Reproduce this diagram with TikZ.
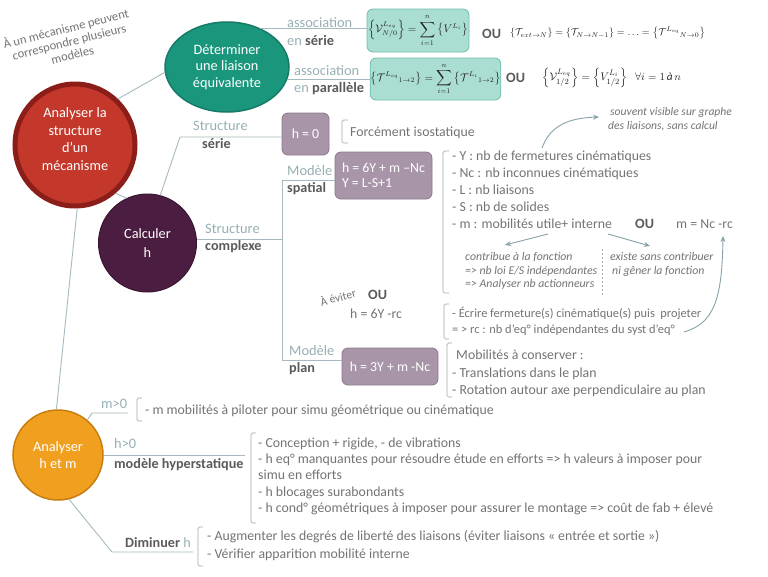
\documentclass[tikz,border=0pt]{standalone}
\usepackage{amsmath}
\usepackage{fontspec}
\setmainfont{Carlito}
\usetikzlibrary{shapes.geometric,arrows.meta}
\definecolor{redf}{HTML}{C4382C}
\definecolor{redb}{HTML}{8C1E19}
\definecolor{tealf}{HTML}{1A967D}
\definecolor{tealb}{HTML}{157A66}
\definecolor{purf}{HTML}{4B1E41}
\definecolor{purb}{HTML}{3A1532}
\definecolor{orf}{HTML}{F0A01E}
\definecolor{orb}{HTML}{C87D0F}
\definecolor{mauf}{HTML}{A896A8}
\definecolor{maub}{HTML}{8C788C}
\definecolor{eqf}{HTML}{AADED2}
\definecolor{eqb}{HTML}{6EBEAA}
\definecolor{linec}{HTML}{A5B9BE}
\definecolor{labc}{HTML}{96AFB4}
\definecolor{txtc}{HTML}{737373}
\definecolor{boldc}{HTML}{5A5A5A}
\definecolor{brkc}{HTML}{A8A8A8}
\definecolor{arrc}{HTML}{86A2A8}
\definecolor{mathc}{HTML}{222222}
\begin{document}
\begin{tikzpicture}[x=1pt,y=-1pt,
  conn/.style={draw=linec,line width=0.9pt},
  brk/.style={draw=brkc,line width=0.7pt,rounded corners=1.5pt},
  arr/.style={draw=arrc,line width=0.9pt,-{Stealth[length=6pt,width=5pt]}},
  bubble/.style={text=white,align=center,font=\fontsize{14.3}{17.5}\selectfont,inner sep=0},
  t/.style={anchor=base west,inner sep=0,text=txtc,font=\fontsize{13.8}{16}\selectfont},
  lab/.style={anchor=base west,inner sep=0,text=labc,font=\fontsize{14.4}{16}\selectfont},
  bl/.style={anchor=base west,inner sep=0,text=boldc,font=\fontsize{14.2}{16}\selectfont\bfseries},
  itx/.style={anchor=base west,inner sep=0,text=txtc,font=\fontsize{11.8}{13}\selectfont\itshape},
  hbox/.style={draw=maub,fill=mauf,rounded corners=6pt,line width=0.8pt,text=white,font=\fontsize{13.8}{15}\selectfont,inner sep=0},
  eqbox/.style={draw=eqb,fill=eqf,rounded corners=6pt,line width=0.8pt,inner sep=0,text=mathc,font=\fontsize{10.5}{12}\selectfont},
  eqtxt/.style={anchor=west,inner sep=0,text=mathc,font=\fontsize{10}{12}\selectfont},
]
\useasboundingbox (0,0) rectangle (768,576);

% ---------- main bubbles ----------
\node[ellipse,fill=redf,draw=redb,line width=5pt,minimum width=120pt,minimum height=122pt] (red) at (75,145) {};
\node[bubble] (redtxt) at (75,139) {Analyser la\\structure\\d’un\\mécanisme};
\node[bubble,ellipse,fill=tealf,draw=tealb,line width=1.5pt,minimum width=124pt,minimum height=90pt,font=\fontsize{14.3}{16.7}\selectfont] (teal) at (227,67) {Déterminer\\une liaison\\équivalente};
\node[bubble,circle,fill=purf,draw=purb,line width=1pt,minimum size=98pt,font=\fontsize{14.3}{19}\selectfont] (purple) at (147.5,243) {Calculer\\h};
\node[bubble,circle,fill=orf,draw=orb,line width=1.5pt,minimum size=90pt] (orange) at (58,455) {Analyser\\h et m};

\node[rotate=14,text=txtc,align=center,inner sep=0,font=\fontsize{12.5}{13.5}\selectfont] (note) at (69,41) {À un mécanisme peuvent\\correspondre plusieurs\\modèles};

% ---------- main connectors ----------
\draw[conn] (red.47) -- (teal.185);
\draw[conn] (red.-50) -- (purple.115);
\draw[conn] (red.-88) -- (orange.92);

% ---------- liaison équivalente ----------
\node[eqbox,minimum width=102pt,minimum height=43pt] (eqs) at (418,30.5)
  {$\displaystyle\left\{\mathcal{V}^{L_{eq}}_{N/0}\right\}=\sum_{i=1}^{n}\left\{V^{L_i}\right\}$};
\node[eqbox,minimum width=127pt,minimum height=42pt] (eqp) at (435.5,79)
  {$\displaystyle\left\{\mathcal{T}^{L_{eq}}{}_{1\to 2}\right\}=\sum_{i=1}^{n}\left\{\mathcal{T}^{L_i}{}_{1\to 2}\right\}$};
\draw[conn] (teal.50) -- (teal.50 -| eqs.west);
\draw[conn] (teal.-12) -- (teal.-12 -| eqp.west);
\node[lab] (asss) at (287,27) {association};
\node[lab] (ens) at (287,45) {en \textcolor{boldc}{\bfseries série}};
\node[lab] (assp) at (294,75) {association};
\node[lab] (enp) at (294,92) {en \textcolor{boldc}{\bfseries parallèle}};
\node[bl] (ou1) at (482,38) {OU};
\node[eqtxt] (eqs2) at (510,33)
  {$\left\{\mathcal{T}_{ext\to N}\right\}=\left\{\mathcal{T}_{N\to N-1}\right\}=\ldots=\left\{\mathcal{T}^{L_{eq}}{}_{N\to 0}\right\}$};
\node[bl] (ou2) at (506,82) {OU};
\node[eqtxt,font=\fontsize{11.2}{13}\selectfont] (eqp2) at (542,78)
  {$\left\{\mathcal{V}^{L_{eq}}_{1/2}\right\}=\left\{V^{L_i}_{1/2}\right\}\;\;\forall i=1\,\text{\itshape à}\,n$};

% ---------- calculer h ----------
\node[hbox,minimum width=47pt,minimum height=42pt] (hzero) at (305.5,134) {h = 0};
\coordinate (sercorner) at (180,137);
\draw[conn] (purple.75) -- (sercorner) -- (sercorner -| hzero.west);
\node[lab] (strs) at (193,130) {Structure};
\node[bl] (sers) at (202,148) {série};
\draw[brk] (348,120) -- (342,120) -- (342,143) -- (348,143);
\node[t] (fiso) at (350,136) {Forcément isostatique};

\node[hbox,minimum width=97pt,minimum height=47pt,align=left] (spat) at (383.5,175.5) {h = 6Y + m –Nc\\Y = L-S+1};
\node[hbox,minimum width=96pt,minimum height=37pt] (planb) at (390,366.5) {h = 3Y + m -Nc};
\coordinate (vtop) at (282,180);
\coordinate (vbot) at (282,360);
\draw[conn] (purple.4) -- (purple.4 -| vtop);
\draw[conn] (vtop) -- (vbot);
\draw[conn] (vtop) -- (vtop -| spat.west);
\draw[conn] (vbot) -- (vbot -| planb.west);
\node[lab] (strc) at (205,233) {Structure};
\node[bl] (cplx) at (205,250) {complexe};
\node[lab] (mods) at (287,175) {Modèle};
\node[bl] (spl) at (287,192) {spatial};
\node[lab] (modp) at (289,355) {Modèle};
\node[bl] (pll) at (289,372) {plan};

\draw[brk] (449,151) -- (443,151) -- (443,293) -- (449,293);
\node[t] (l1) at (452,160) {- Υ : nb de fermetures cinématiques};
\node[t] (l2) at (452,177.5) {- Nc : nb inconnues cinématiques};
\node[t] (l3) at (452,194) {- L : nb liaisons};
\node[t] (l4) at (452,211) {- S : nb de solides};
\node[t] (l5) at (452,228) {- m : mobilités utile+ interne};
\node[bl] (ou3) at (635,228) {OU};
\node[t] (mnc) at (676,228) {m = Nc -rc};

\node[itx] (i1) at (465,260) {contribue à la fonction};
\node[itx] (i2) at (465,274) {=> nb loi E/S indépendantes};
\node[itx] (i3) at (465,287) {=> Analyser nb actionneurs};
\node[itx] (i4) at (610,260) {existe sans contribuer};
\node[itx] (i5) at (612,274) {ni gêner la fonction};
\coordinate (dt1) at (602,249);
\coordinate (dt2) at (602,297);
\draw[draw=brkc,line width=0.7pt,dash pattern=on 2pt off 2pt] (dt1) -- (dt2);
\coordinate (a1s) at (548,234);
\coordinate (a1e) at (505,245);
\coordinate (a2s) at (608,234);
\coordinate (a2e) at (650,246);
\draw[arr] (a1s) -- (a1e);
\draw[arr] (a2s) -- (a2e);

\node[itx,font=\fontsize{11.6}{13}\selectfont\itshape] (sv1) at (610,115) {souvent visible sur graphe};
\node[itx,font=\fontsize{11.6}{13}\selectfont\itshape] (sv2) at (608,129) {des liaisons, sans calcul};
\coordinate (c1s) at (542,148);
\coordinate (c1e) at (599,117);
\draw[arr] (c1s) .. controls (550,126) and (568,118) .. (c1e);

\node[rotate=15,text=txtc,inner sep=0,font=\fontsize{11.5}{13}\selectfont] (avoid) at (338,297) {À éviter};
\node[bl] (ou4) at (368,299) {OU};
\node[t] (h6y) at (350,318) {h = 6Y -rc};
\draw[brk] (449,304) -- (444,304) -- (444,339) -- (449,339);
\node[t,font=\fontsize{12.4}{15}\selectfont] (e1) at (452,317.5) {- Écrire fermeture(s) cinématique(s) puis\ \ projeter};
\node[t,font=\fontsize{12.4}{15}\selectfont] (e2) at (452,333.5) {= > rc : nb d’eq° indépendantes du syst d’eq°};
\coordinate (c2s) at (684,332);
\coordinate (c2e) at (723,236);
\draw[arr] (c2s) .. controls (714,323) and (722,300) .. (c2e);

\draw[brk] (452,343) -- (447,343) -- (447,397) -- (452,397);
\node[t] (p1) at (456,359) {Mobilités à conserver :};
\node[t] (p2) at (452,377) {- Translations dans le plan};
\node[t] (p3) at (452,394) {- Rotation autour axe perpendiculaire au plan};

% ---------- analyser h et m ----------
\coordinate (mk) at (92,413);
\coordinate (me) at (128,413);
\draw[conn] (orange.50) -- (mk) -- (me);
\node[lab] (m0) at (101,408) {m>0};
\draw[brk] (142,398) -- (137,398) -- (137,421) -- (142,421);
\node[t] (mt) at (145,414) {- m mobilités à piloter pour simu géométrique ou cinématique};

\coordinate (he) at (245,456);
\draw[conn] (orange.-1) -- (orange.-1 -| he);
\node[lab] (h0) at (114,448) {h>0};
\node[bl] (hyp) at (114,468) {modèle hyperstatique};
\draw[brk] (256,433) -- (251,433) -- (251,523) -- (256,523);
\node[t] (k1) at (258,447) {- Conception + rigide, - de vibrations};
\node[t] (k2) at (258,463) {- h eq° manquantes pour résoudre étude en efforts => h valeurs à imposer pour};
\node[t] (k3) at (258,479) {simu en efforts};
\node[t] (k4) at (258,496) {- h blocages surabondants};
\node[t] (k5) at (258,512) {- h cond° géométriques à imposer pour assurer le montage => coût de fab + élevé};

\coordinate (dk) at (112,552);
\coordinate (de) at (193,552);
\draw[conn] (orange.-76) -- (dk) -- (de);
\node[bl] (dim) at (125,547) {Diminuer \textcolor{labc}{\mdseries h}};
\draw[brk] (203,527) -- (198,527) -- (198,566) -- (203,566);
\node[t] (d1) at (207,540) {- Augmenter les degrés de liberté des liaisons (éviter liaisons « entrée et sortie »)};
\node[t] (d2) at (207,558) {- Vérifier apparition mobilité interne};
\end{tikzpicture}
\end{document}
